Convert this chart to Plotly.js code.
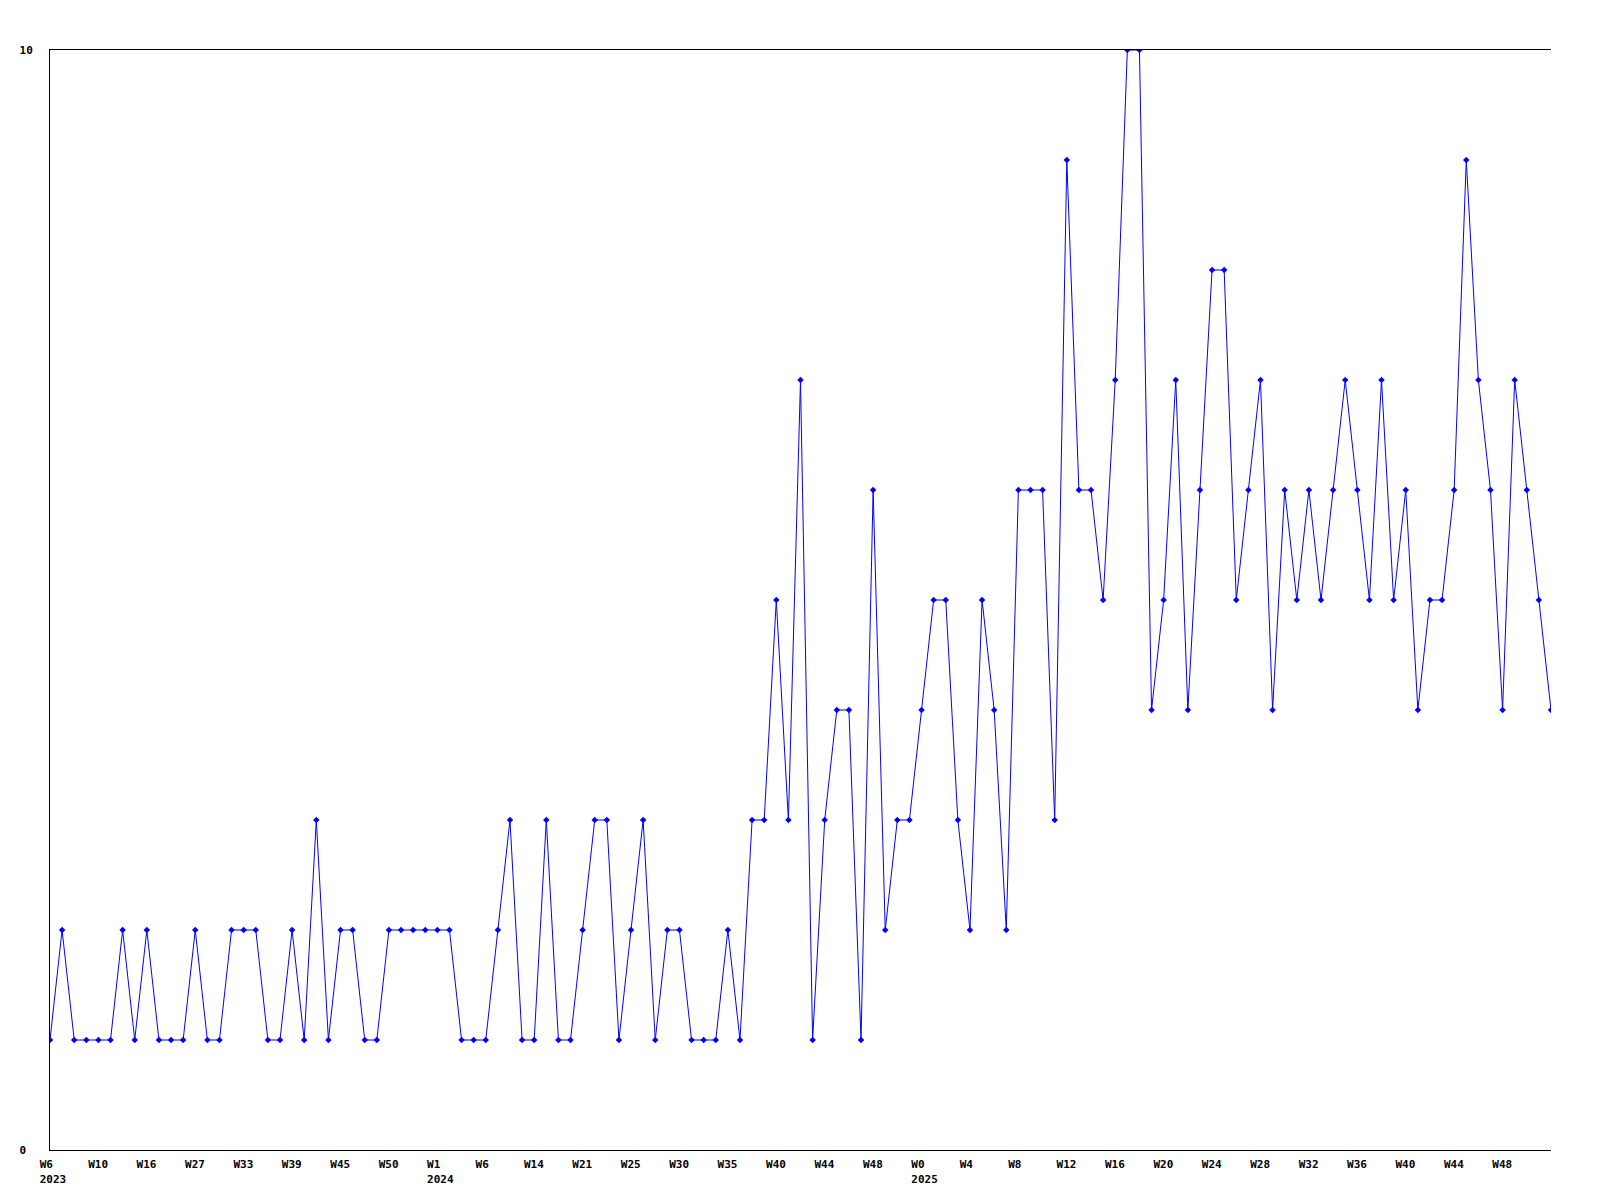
<!DOCTYPE html>
<html>
<head>
<meta charset="utf-8">
<script src="https://cdn.plot.ly/plotly-3.0.1.min.js"></script>
<style>
  html, body { margin: 0; padding: 0; background: #fff; }
  #chart { width: 1600px; height: 1200px; }
</style>
</head>
<body>
<div id="chart"></div>
<script>
// Weekly counts, one value per plotted week (125 points)
const values = [
  1,2,1,1,1,1,2,1,2,1,
  1,1,2,1,1,2,2,2,1,1,
  2,1,3,1,2,2,1,1,2,2,
  2,2,2,2,1,1,1,2,3,1,
  1,3,1,1,2,3,3,1,2,3,
  1,2,2,1,1,1,2,1,3,3,
  5,3,7,1,3,4,4,1,6,2,
  3,3,4,5,5,3,2,5,4,2,
  6,6,6,3,9,6,6,5,7,10,
  10,4,5,7,4,6,8,8,5,6,
  7,4,6,5,6,5,6,7,6,5,
  7,5,6,4,5,5,6,9,7,6,
  4,7,6,5,4
];

// Labelled weeks (every 4th point)
const weekLabels = ['W6','W10','W16','W27','W33','W39','W45','W50','W1','W6','W14',
  'W21','W25','W30','W35','W40','W44','W48','W0','W4','W8','W12','W16','W20',
  'W24','W28','W32','W36','W40','W44','W48'];
const labelStep = 4;
// Year labels, keyed by point index
const yearLabelIndex = [0, 32, 72];
const yearLabels = ['2023', '2024', '2025'];

const yTickVals = [0, 10];
const yTickText = ['0', '10'];

const xIdx = values.map((_, i) => i);
const NB = '\u00a0';
const pad = (s, n) => s + NB.repeat(Math.max(0, n - s.length));

const tickvals = weekLabels.map((_, k) => k * labelStep);
const ticktext = weekLabels.map((w, k) => {
  const idx = k * labelStep;
  const yi = yearLabelIndex.indexOf(idx);
  let t = pad(w, 4);
  if (yi >= 0) t += '<br>' + pad(yearLabels[yi], 4);
  return t;
});

const font = { family: 'DejaVu Sans Mono, monospace', size: 11, color: '#000', weight: 'bold' };

const trace = {
  type: 'scatter',
  mode: 'lines+markers',
  x: xIdx,
  y: values,
  line: { color: '#0000ff', width: 1 },
  marker: { color: '#0000ff', symbol: 'diamond', size: 5 },
  hoverinfo: 'x+y'
};

const layout = {
  width: 1600,
  height: 1200,
  paper_bgcolor: '#ffffff',
  plot_bgcolor: '#ffffff',
  showlegend: false,
  margin: { l: 50, r: 49, t: 50, b: 50 },
  font: font,
  xaxis: {
    range: [0, 124],
    showgrid: false,
    zeroline: false,
    showline: true,
    mirror: true,
    linecolor: '#000',
    linewidth: 1,
    ticks: '',
    tickmode: 'array',
    tickvals: tickvals,
    ticktext: ticktext,
    tickangle: 0,
    ticklabelshift: 3,
    ticklabelstandoff: 4,
    tickfont: font
  },
  yaxis: {
    range: [0, 10],
    showgrid: false,
    zeroline: false,
    showline: true,
    linecolor: '#000',
    linewidth: 1,
    ticks: '',
    tickmode: 'array',
    tickvals: yTickVals,
    ticktext: yTickText.map(t => pad(t, 2)),
    ticklabelstandoff: 14,
    tickfont: font
  }
};

Plotly.newPlot('chart', [trace], layout, { displayModeBar: false, staticPlot: true });
</script>
</body>
</html>
